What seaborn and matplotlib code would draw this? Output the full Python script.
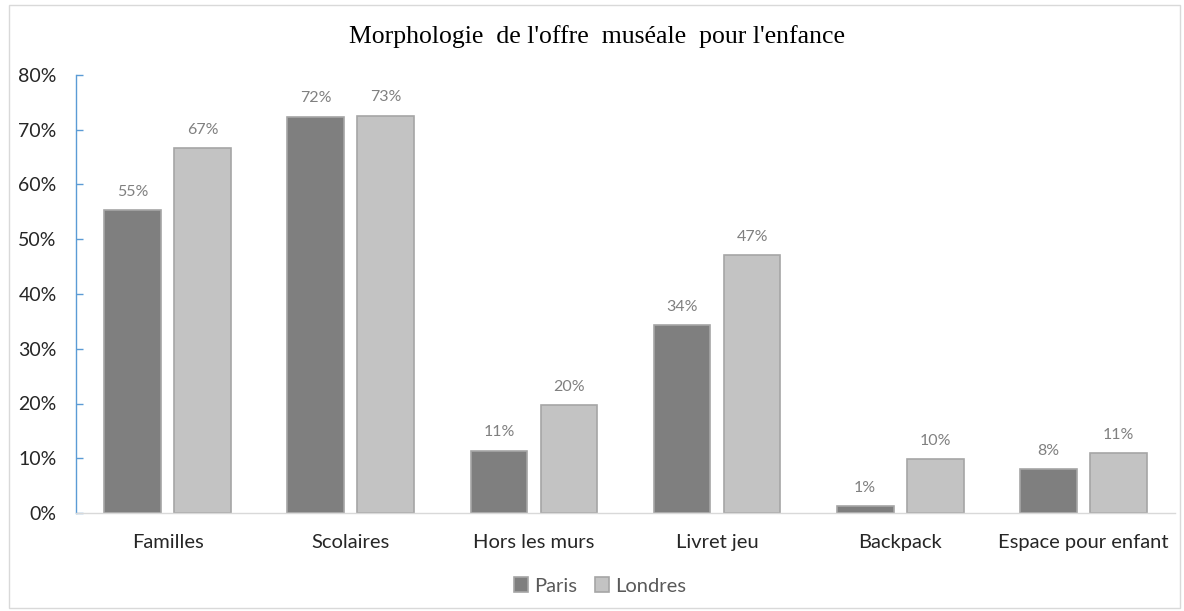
import matplotlib
matplotlib.use("Agg")
import matplotlib.pyplot as plt
import seaborn as sns
import pandas as pd
from matplotlib.patches import Rectangle

categories = ["Familles", "Scolaires", "Hors les murs", "Livret jeu", "Backpack", "Espace pour enfant"]
paris = [55.3, 72.4, 11.4, 34.4, 1.3, 8.0]
londres = [66.7, 72.6, 19.7, 47.1, 9.9, 10.9]
series = ["Paris", "Londres"]
yticks = [0, 10, 20, 30, 40, 50, 60, 70, 80]

df = pd.DataFrame({
    "cat": categories * 2,
    "val": paris + londres,
    "ville": ["Paris"] * len(categories) + ["Londres"] * len(categories),
})

sns.set_theme(style="white")
plt.rcParams["font.family"] = ["Lato", "DejaVu Sans"]

fig = plt.figure(figsize=(11.84, 6.11), dpi=100)
ax = fig.add_axes([76 / 1184, 1 - 513 / 611, (1175 - 76) / 1184, (513 - 75) / 611])

sns.barplot(data=df, x="cat", y="val", hue="ville", order=categories, hue_order=series,
            palette={"Paris": "#7f7f7f", "Londres": "#c3c3c3"}, width=0.765, gap=0.19,
            edgecolor="#a6a6a6", linewidth=1.2, ax=ax, legend=True)

for cont in ax.containers:
    ax.bar_label(cont, labels=[f"{v:.0f}%" for v in cont.datavalues], padding=8,
                 color="#808080", fontsize=11.5)

ax.set_ylim(0, 80)
ax.set_yticks(yticks)
ax.set_yticklabels([f"{t}%" for t in yticks], fontsize=14, color="#262626")
ax.set_xlim(-0.5, len(categories) - 0.5)
ax.tick_params(axis="x", labelsize=14.5, colors="#262626", pad=15, length=0)
ax.tick_params(axis="y", direction="in", length=5, color="#5b9bd5", width=1, pad=14, left=True)
ax.set_xlabel("")
ax.set_ylabel("")
for s in ["top", "right"]:
    ax.spines[s].set_visible(False)
ax.spines["left"].set_color("#5b9bd5")
ax.spines["left"].set_linewidth(1)
ax.spines["bottom"].set_color("#d9d9d9")
ax.spines["bottom"].set_linewidth(1)

handles, labels = ax.get_legend_handles_labels()
ax.legend(handles, labels, loc="center", bbox_to_anchor=(600 / 1184, 1 - 586 / 611),
          bbox_transform=fig.transFigure, ncol=2, frameon=False, fontsize=14.5,
          handlelength=0.7, handleheight=0.7, handletextpad=0.3, columnspacing=0.9,
          labelcolor="#595959")

fig.text(597 / 1184, 1 - 37 / 611, "Morphologie  de l'offre  muséale  pour l'enfance",
         ha="center", va="center", fontsize=18.5, family=["Liberation Serif", "DejaVu Serif"],
         color="#000000")

fig.patches.append(Rectangle((9 / 1184, 1 - 608 / 611), (1180 - 9) / 1184, (608 - 5) / 611,
                             transform=fig.transFigure, fill=False, edgecolor="#d9d9d9",
                             linewidth=1))

fig.savefig("out.png", dpi=100, facecolor="white")
